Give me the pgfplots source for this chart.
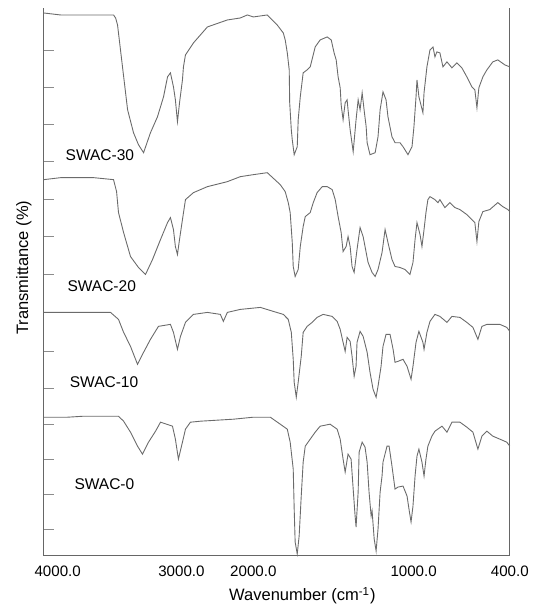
\documentclass[border=0pt]{standalone}
\usepackage{fontspec}
\setmainfont{Liberation Sans}
\usepackage{pgfplots}
\pgfplotsset{compat=1.18}

% FTIR spectra, stacked. The wavenumber axis is drawn with a scale change at 2000 cm-1
\pgfplotstableread{
w y
4000 544
3877 542
3754 542
3638 542
3493 542
3478 539
3464 532
3428 490
3391 447
3348 424
3312 412
3275 404
3225 424
3174 440
3130 460
3101 480
3080 484
3058 470
3044 457
3029 435
3014 454
2986 477
2972 490
2944 502
2833 514
2639 530
2361 537
2181 539
2083 542
2000 540
1913 542
1851 532
1813 524
1801 517
1788 504
1776 487
1773 454
1763 427
1757 417
1745 402
1726 410
1720 437
1707 460
1689 484
1664 487
1645 490
1614 510
1583 517
1539 520
1514 517
1496 504
1483 497
1471 480
1458 469
1452 452
1440 437
1427 454
1415 457
1409 447
1396 427
1377 405
1359 437
1346 457
1334 447
1321 464
1309 447
1296 430
1290 414
1272 402
1240 404
1222 420
1209 447
1191 465
1172 457
1160 440
1135 420
1116 414
1085 414
1066 410
1035 402
1010 410
998 430
985 460
979 477
967 460
942 444
935 464
917 490
898 507
879 510
867 500
855 505
836 504
817 490
792 495
761 489
730 494
699 489
668 480
637 470
618 467
605 449
593 469
568 480
543 487
506 495
475 497
431 492
400 490
}\swacthirty

\pgfplotstableread{
w y
4000 377
3877 379
3754 379
3638 379
3493 377
3471 365
3457 344
3420 324
3370 300
3312 289
3261 282
3210 297
3152 317
3101 334
3080 339
3058 327
3044 310
3029 302
3014 317
2986 337
2944 357
2833 364
2639 370
2361 375
2181 380
2000 382
1913 384
1832 372
1801 365
1782 354
1770 344
1757 314
1751 290
1739 280
1720 287
1707 310
1689 330
1676 340
1645 344
1626 354
1602 364
1570 370
1539 370
1508 367
1489 357
1471 340
1452 324
1440 305
1421 310
1409 320
1396 310
1384 290
1371 284
1353 307
1334 329
1315 320
1296 304
1284 294
1259 284
1240 280
1222 287
1197 304
1178 327
1160 314
1135 297
1116 290
1085 289
1054 287
1023 282
1004 294
991 317
979 334
960 322
948 310
935 327
923 344
911 357
898 360
867 357
848 354
836 357
805 349
774 354
742 349
711 347
668 342
637 337
618 334
605 315
593 335
568 345
525 347
475 354
444 350
412 347
400 345
}\swactwenty

\pgfplotstableread{
w y
4000 244
3826 244
3515 244
3457 237
3420 224
3370 210
3319 192
3275 204
3225 217
3167 230
3080 232
3058 224
3029 207
3007 220
2944 234
2833 242
2639 244
2458 242
2417 235
2361 244
2181 247
1956 249
1875 245
1813 242
1782 237
1763 224
1751 197
1745 174
1732 159
1720 174
1701 200
1689 224
1664 230
1633 234
1602 239
1564 242
1508 240
1477 235
1458 227
1440 214
1427 205
1415 219
1396 215
1384 200
1371 180
1359 190
1353 214
1334 225
1315 220
1290 204
1272 184
1253 167
1234 159
1222 170
1203 190
1191 210
1172 222
1147 222
1128 207
1116 194
1097 195
1066 197
1041 190
1016 177
1004 190
985 214
967 225
942 214
935 207
917 224
898 235
867 242
836 240
792 234
761 240
711 239
668 234
630 229
599 217
574 230
543 232
462 232
419 229
400 225
}\swacten

\pgfplotstableread{
w y
4000 139
3826 139
3710 140
3457 140
3420 135
3370 124
3319 110
3283 102
3239 114
3188 125
3152 134
3065 130
3044 117
3022 97
2986 114
2944 127
2875 134
2736 135
2278 137
2000 139
1894 139
1832 132
1788 127
1770 114
1751 87
1745 47
1739 14
1726 2
1714 20
1701 60
1689 94
1676 110
1645 117
1614 124
1583 130
1521 132
1477 127
1458 117
1440 97
1427 84
1409 102
1390 97
1377 67
1365 40
1359 29
1346 64
1340 104
1321 114
1303 109
1290 94
1278 64
1265 40
1259 45
1246 17
1234 5
1222 27
1209 64
1197 80
1191 94
1166 110
1153 110
1135 90
1116 67
1097 69
1066 70
1041 60
1029 47
1016 34
1004 50
991 80
979 100
967 107
948 94
935 80
923 97
911 110
886 120
867 125
823 130
792 124
761 134
711 134
668 129
630 124
599 107
574 120
543 125
506 120
462 117
419 114
400 110
}\swaczero

\begin{document}
\begin{tikzpicture}
\begin{axis}[
    scale only axis,
    width=233.5bp,
    height=274.5bp,
    x coord trafo/.code={\pgfmathparse{(#1>=3000)*(43+(4000-#1)*0.138)+(#1<3000)*(#1>=2000)*(181+(3000-#1)*0.072)+(#1<2000)*(253+(2000-#1)*0.160625)}},
    xmin=4000, xmax=400,
    ymin=0, ymax=549,
    axis x line*=bottom,
    axis y line*=box,
    axis line style={black!60, line width=0.5pt},
    xtick={4000,3000,2000,1000,400},
    xticklabels={\hspace*{14bp}4000.0,3000.0,2000.0,1000.0,400.0},
    xtick style={draw=none},
    ytick={27,62,97,132,168,205,244,282,320,357,395,432,469,507},
    yticklabels={},
    ytick pos=left,
    tick align=inside,
    major tick length=5bp,
    ytick style={black!45, line width=0.4pt},
    tick label style={font=\fontsize{7.6}{9}\selectfont},
    xticklabel style={yshift=-1.5bp},
    label style={font=\fontsize{8.3}{10}\selectfont},
    xlabel={Wavenumber (cm\textsuperscript{-1})},
    ylabel={Transmittance (\%)},
    xlabel style={at={(axis description cs:0.555,-0.0729)}, anchor=center},
    ylabel style={at={(axis description cs:-0.0428,0.526)}, anchor=center},
    clip=false,
]
\addplot[black!58, line width=0.45pt] table[x=w, y=y] {\swacthirty};
\addplot[black!58, line width=0.45pt] table[x=w, y=y] {\swactwenty};
\addplot[black!58, line width=0.45pt] table[x=w, y=y] {\swacten};
\addplot[black!58, line width=0.45pt] table[x=w, y=y] {\swaczero};

\node[anchor=west, font=\fontsize{7.8}{9}\selectfont] at (rel axis cs:0.032,0.732) {SWAC-30};
\node[anchor=west, font=\fontsize{7.8}{9}\selectfont] at (rel axis cs:0.036,0.492) {SWAC-20};
\node[anchor=west, font=\fontsize{7.8}{9}\selectfont] at (rel axis cs:0.041,0.317) {SWAC-10};
\node[anchor=west, font=\fontsize{7.8}{9}\selectfont] at (rel axis cs:0.051,0.131) {SWAC-0};

\coordinate (sw) at (rel axis cs:0,0);
\coordinate (ne) at (rel axis cs:1,1);
\end{axis}
\path ([shift={(-21.5bp,-27bp)}]sw) rectangle ([shift={(11.5bp,4bp)}]ne);
\end{tikzpicture}
\end{document}
